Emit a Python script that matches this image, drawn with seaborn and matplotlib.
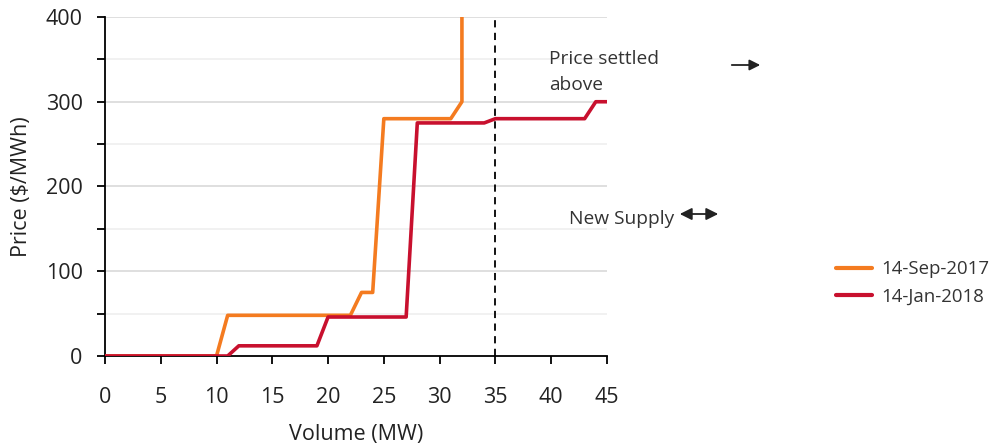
import matplotlib
matplotlib.use("Agg")
import matplotlib.pyplot as plt
import seaborn as sns
import pandas as pd

# supply curves
sep_volume = [0, 10, 11, 22, 23, 24, 25, 31, 32, 32]
sep_price = [0, 0, 48, 48, 75, 75, 280, 280, 300, 480]
jan_volume = [0, 11, 12, 19, 20, 27, 28, 34, 35, 43, 44, 45]
jan_price = [0, 0, 12, 12, 46, 46, 275, 275, 280, 280, 300, 300]
series_names = ["14-Sep-2017", "14-Jan-2018"]
colors = ["#F47B20", "#C8102E"]
settle_volume = 35

sns.set_style("white")
plt.rcParams["font.family"] = ["Open Sans", "DejaVu Sans"]

df = pd.concat([
    pd.DataFrame({"Volume": sep_volume, "Price": sep_price, "Date": series_names[0]}),
    pd.DataFrame({"Volume": jan_volume, "Price": jan_price, "Date": series_names[1]}),
])

fig = plt.figure(figsize=(9.94, 4.47), dpi=100)
ax = fig.add_axes([0.1056, 0.2036, 0.505, 0.7584])

for y in range(50, 401, 50):
    ax.axhline(y, color="#D9D9D9" if y % 100 == 0 else "#EFEFEF", lw=1.2, zorder=0)

sns.lineplot(data=df, x="Volume", y="Price", hue="Date", palette=colors,
             estimator=None, sort=False, lw=2.6, ax=ax, zorder=3)

ax.axvline(settle_volume, color="black", ls=(0, (4, 3)), lw=1.3, zorder=2)

ax.set_xlim(0, 45)
ax.set_ylim(0, 400)
ax.set_xticks(range(0, 46, 5))
ax.set_yticks(range(0, 401, 100))
ax.set_yticks(range(0, 401, 50), minor=True)
ax.tick_params(axis="both", which="both", direction="out", length=6, width=1.3,
               color="black", labelsize=15.5, labelcolor="#222222", bottom=True, left=True)
ax.tick_params(axis="x", pad=16)
ax.tick_params(axis="y", pad=10)
for s in ["top", "right"]:
    ax.spines[s].set_visible(False)
for s in ["left", "bottom"]:
    ax.spines[s].set_color("black")
    ax.spines[s].set_linewidth(1.3)

ax.set_xlabel("Volume (MW)", fontsize=15.5, color="#222222", labelpad=12)
ax.set_ylabel("Price ($/MWh)", fontsize=15.5, color="#222222")
ax.yaxis.set_label_coords(32 / 994, 0.2036 + 0.7584 / 2, transform=fig.transFigure)

fig.text(549 / 994, 1 - 50 / 447, "Price settled\nabove", fontsize=13.8,
         color="#333333", va="top", ha="left", linespacing=1.6)
ax.annotate("", xy=(763 / 994, 1 - 65 / 447), xytext=(729 / 994, 1 - 65 / 447),
            xycoords="figure fraction",
            arrowprops=dict(arrowstyle="-|>", color="#222222", lw=1.3, mutation_scale=16))
fig.text(569 / 994, 1 - 219 / 447, "New Supply", fontsize=13.8,
         color="#333333", va="center", ha="left")
ax.annotate("", xy=(721 / 994, 1 - 214 / 447), xytext=(677 / 994, 1 - 214 / 447),
            xycoords="figure fraction",
            arrowprops=dict(arrowstyle="<|-|>", color="#222222", lw=1.3, mutation_scale=18))

leg = ax.legend(loc="center left", bbox_to_anchor=(836 / 994, 1 - 283 / 447),
                bbox_transform=fig.transFigure, frameon=False, fontsize=13.4,
                borderpad=0, borderaxespad=0,
                handlelength=1.95, handletextpad=0.5, labelspacing=0.5, title=None)
for t in leg.get_texts():
    t.set_color("#333333")
for h in leg.get_lines():
    h.set_linewidth(3)

fig.savefig("out.png", dpi=100)
